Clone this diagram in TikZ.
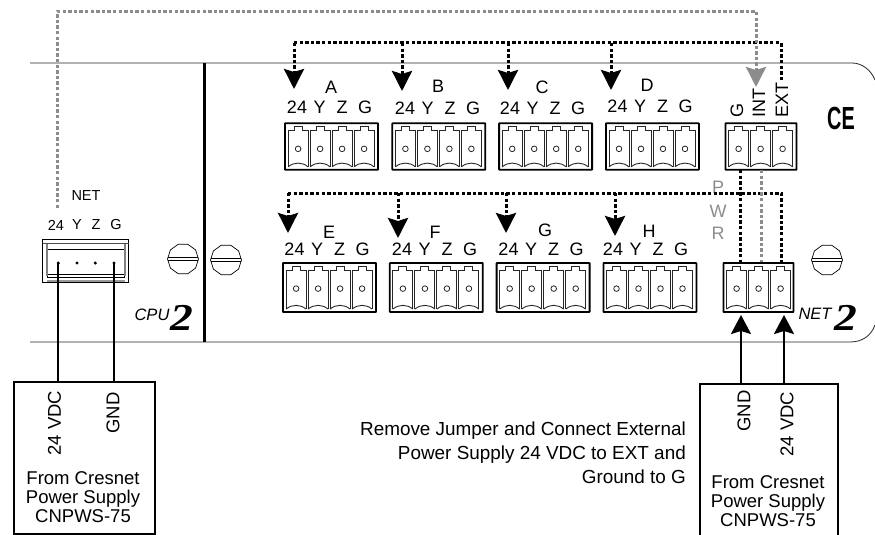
\documentclass[tikz,border=0pt]{standalone}
\usepackage{fontspec}
\setmainfont{Liberation Sans}
\newfontfamily\numeralfont{Liberation Serif}
\usetikzlibrary{calc, arrows.meta, positioning, shapes.geometric}

% one pole of a plug, #1 is the height of the plug
\tikzset{
	pole/.pic={
		\draw [line width=0.9pt, black!85] (-10,#1-2) -- (-10,8) -- (-4,8) -- (-4,4) -- (4,4) -- (4,8) -- (10,8) -- (10,#1-2);
		\draw [line width=0.9pt, black!85] (-10,#1-2) .. controls (-4,#1-7) and (4,#1-7) .. (10,#1-2);
		\draw [line width=0.8pt, black!85] (0,26.5) circle (2.8);
	}
}
\newcommand{\polesthree}[2]{
	\path ([xshift=14pt]#1.north west) pic {pole=#2};
	\path ([xshift=36pt]#1.north west) pic {pole=#2};
	\path ([xshift=58pt]#1.north west) pic {pole=#2};
}
\newcommand{\polesfour}[2]{
	\polesthree{#1}{#2}
	\path ([xshift=80pt]#1.north west) pic {pole=#2};
}
\newcommand{\pinlabels}[3]{
	\node (#124) [pinstyle] at (#2,#3) {24};
	\node (#1Y) [pinstyle] at (#2+22.5,#3) {Y};
	\node (#1Z) [pinstyle] at (#2+45,#3) {Z};
	\node (#1G) [pinstyle] at (#2+68,#3) {G};
}

\begin{document}
\begin{tikzpicture} [x=1pt, y=-1pt, node distance=12pt,
		% define styles
		termstyle/.style={
			% The shape:
			rectangle,
			% The size:
			minimum width=93pt,
			minimum height=46.5pt,
			inner sep=0pt,
			% The border:
			line width=1.8pt,
			draw=black,
			rounded corners=0.5pt
		},
		termwidestyle/.style={
			termstyle,
			minimum height=49pt
		},
		pinstyle/.style={
			inner sep=0pt,
			font=\fontsize{18}{19}\selectfont
		},
		smallpinstyle/.style={
			inner sep=0pt,
			font=\fontsize{14.5}{16}\selectfont
		},
		screwstyle/.style={
			regular polygon,
			regular polygon sides=10,
			minimum size=31pt,
			inner sep=0pt,
			draw=black,
			line width=0.7pt,
			% The slot:
			path picture={
				\draw ([yshift=1.4pt]path picture bounding box.west) -- ([yshift=1.4pt]path picture bounding box.east);
				\draw ([yshift=-1.4pt]path picture bounding box.west) -- ([yshift=-1.4pt]path picture bounding box.east);
			}
		},
		supplystyle/.style={
			rectangle,
			inner sep=0pt,
			line width=1.6pt,
			draw=black,
			anchor=north west
		},
		supplytextstyle/.style={
			inner sep=0pt,
			align=center,
			font=\fontsize{18.5}{19}\selectfont
		},
		wirearrow/.style={
			line width=2pt,
			-{Stealth[length=19pt, width=20pt, inset=3pt]}
		},
		buslinestyle/.style={
			line width=3pt,
			dash pattern=on 3.4pt off 2.2pt,
			black
		},
		busarrow/.style={
			buslinestyle,
			-{Stealth[length=20pt, width=20pt, inset=3pt]}
		},
		netlinestyle/.style={
			buslinestyle,
			black!45
		},
		netarrow/.style={
			netlinestyle,
			-{Stealth[length=20pt, width=20pt, inset=3pt]}
		}]
		% end of style definition

		\useasboundingbox (0,0) rectangle (875,535);

		% panel
		\draw [line width=0.8pt, black!85] (30,63) -- (852,63) .. controls (862,63) and (871,70) .. (875,80);
		\draw [line width=0.8pt, black!85] (30,342) -- (850,342) .. controls (862,342) and (871,336) .. (875,325);
		\draw [line width=3pt] (204,63) -- (204,342);

		% draw nodes
		\node (iTermA) [termstyle] at (331.5,146.5) {};
		\node (iTermB) [termstyle, right=12.5pt of iTermA] {};
		\node (iTermC) [termstyle, right=of iTermB] {};
		\node (iTermD) [termstyle, right=of iTermC] {};
		\node (iTermPwr) [termstyle, minimum width=71pt] at (761,146.5) {};
		\node (iTermE) [termwidestyle] at (329.5,287.5) {};
		\node (iTermF) [termwidestyle, right=of iTermE] {};
		\node (iTermG) [termwidestyle, right=of iTermF] {};
		\node (iTermH) [termwidestyle, right=of iTermG] {};
		\node (iTermNet) [termwidestyle, minimum width=70pt] at (758.5,287.5) {};

		\polesfour{iTermA}{46.5}
		\polesfour{iTermB}{46.5}
		\polesfour{iTermC}{46.5}
		\polesfour{iTermD}{46.5}
		\polesthree{iTermPwr}{46.5}
		\polesfour{iTermE}{49}
		\polesfour{iTermF}{49}
		\polesfour{iTermG}{49}
		\polesfour{iTermH}{49}
		\polesthree{iTermNet}{49}

		% labels of the plugs
		\node (iLetterA) [pinstyle] at (331,87) {A};
		\node (iLetterB) [pinstyle] at (438,86) {B};
		\node (iLetterC) [pinstyle] at (542,87) {C};
		\node (iLetterD) [pinstyle] at (647,85) {D};
		\node (iLetterE) [pinstyle] at (329,232) {E};
		\node (iLetterF) [pinstyle] at (435,232) {F};
		\node (iLetterG) [pinstyle] at (545,230) {G};
		\node (iLetterH) [pinstyle] at (649,231) {H};
		\pinlabels{iPinsA}{297}{107}
		\pinlabels{iPinsB}{405}{108.5}
		\pinlabels{iPinsC}{510}{108}
		\pinlabels{iPinsD}{617.5}{106}
		\pinlabels{iPinsE}{294.5}{249}
		\pinlabels{iPinsF}{402}{249}
		\pinlabels{iPinsG}{508.5}{249}
		\pinlabels{iPinsH}{613}{249}

		\node (iLabelG) [pinstyle, rotate=90, anchor=west] at (737,118) {G};
		\node (iLabelInt) [pinstyle, rotate=90, anchor=west] at (759,118) {INT};
		\node (iLabelExt) [pinstyle, rotate=90, anchor=west] at (782,118) {EXT};

		\node (iMarkCe) [inner sep=0pt, font=\fontsize{32}{32}\selectfont\bfseries] at (841,118) {\scalebox{0.62}[1]{CE}};

		\node (iLetterP) [pinstyle, text=black!45] at (718,187) {P};
		\node (iLetterW) [pinstyle, text=black!45] at (718,211) {W};
		\node (iLetterR) [pinstyle, text=black!45] at (718,233) {R};

		% net plug on the cpu side
		\node (iNetLabel) [smallpinstyle] at (86,196) {NET};
		\node (iNet24) [smallpinstyle] at (56,225) {24};
		\node (iNetY) [smallpinstyle] at (77,225) {Y};
		\node (iNetZ) [smallpinstyle] at (96,225) {Z};
		\node (iNetG) [smallpinstyle] at (116,225) {G};
		\node (iNetPlug) [rectangle, draw=black, line width=1.3pt, inner sep=0pt, minimum width=86pt, minimum height=43pt] at (85.5,261) {};
		\draw [line width=0.8pt] (47.5,277) |- (124,249) -- (124,277) -- cycle;
		\draw [line width=0.6pt, black!70] (43,243) -- (128.5,243);
		\draw [line width=0.8pt] (47.5,274) -- (124,274);
		\draw [line width=2pt, black!40] (47,280.5) -- (125,280.5);
		\draw [line width=1.6pt, black!50] (47,243.5) -- (47,276);
		\draw [line width=1.6pt, black!50] (125,243.5) -- (125,276);
		\node (iPin24) [circle, fill=black, inner sep=0pt, minimum size=3.4pt] at (58.3,263) {};
		\node (iPinY) [circle, fill=black, inner sep=0pt, minimum size=3.4pt] at (77,263) {};
		\node (iPinZ) [circle, fill=black, inner sep=0pt, minimum size=3.4pt] at (95.3,263) {};
		\node (iPinG) [circle, fill=black, inner sep=0pt, minimum size=3.4pt] at (114,263) {};

		% screws
		\node (iScrewA) [screwstyle] at (183,259) {};
		\node (iScrewB) [screwstyle] at (226,260) {};
		\node (iScrewC) [screwstyle] at (827,260) {};

		% module names
		\node (iCpuName) [inner sep=0pt, font=\fontsize{16.5}{17}\selectfont\itshape] at (152,315) {CPU};
		\node (iCpuTwo) [inner sep=0pt, font=\numeralfont\fontsize{38}{38}\selectfont\bfseries\itshape] at (182,318) {\scalebox{1.2}[1]{2}};
		\node (iNetName) [inner sep=0pt, font=\fontsize{16.5}{17}\selectfont\itshape] at (815,314) {NET};
		\node (iNetTwo) [inner sep=0pt, font=\numeralfont\fontsize{38}{38}\selectfont\bfseries\itshape] at (846,318) {\scalebox{1.2}[1]{2}};

		% supplies
		\node (iSupplyLeft) [supplystyle, minimum width=141pt, minimum height=152pt] at (13,381) {};
		\node (iSupplyRight) [supplystyle, minimum width=138pt, minimum height=170pt] at (699,383) {};
		\node (iLeftVdc) [supplytextstyle, rotate=90] at (54.5,423) {24 VDC};
		\node (iLeftGnd) [supplytextstyle, rotate=90] at (113,413) {GND};
		\node (iLeftText) [supplytextstyle] at (83,497) {From Cresnet\\Power Supply\\CNPWS-75};
		\node (iRightGnd) [supplytextstyle, rotate=90] at (744,411) {GND};
		\node (iRightVdc) [supplytextstyle, rotate=90] at (787,424) {24 VDC};
		\node (iRightText) [supplytextstyle] at (768,501) {From Cresnet\\Power Supply\\CNPWS-75};

		\node (iRemoveText) [inner sep=0pt, align=right, anchor=east, font=\fontsize{18.9}{24}\selectfont] at (686,453) {Remove Jumper and Connect External\\Power Supply 24 VDC to EXT and\\Ground to G};

		% bus points
		\coordinate (iBusTopA) at (294,43);
		\coordinate (iBusTopB) at (402,43);
		\coordinate (iBusTopC) at (508,43);
		\coordinate (iBusTopD) at (611,43);
		\coordinate (iBusTopExt) at (781,43);
		\coordinate (iExtEnd) at (781,80);
		\coordinate (iBusLowE) at (288,193);
		\coordinate (iBusLowF) at (398,193);
		\coordinate (iBusLowG) at (506,193);
		\coordinate (iBusLowH) at (615,193);
		\coordinate (iBusLowExt) at (781,193);
		\coordinate (iJumperG) at (740,170);
		\coordinate (iJumperInt) at (761,170);
		\coordinate (iNetStart) at (57,208);
		\coordinate (iNetCorner) at (756,12);
		\coordinate (iNetTip) at (756,87);
		\coordinate (iTipA) at (294,89);
		\coordinate (iTipB) at (402,91);
		\coordinate (iTipC) at (508,90);
		\coordinate (iTipD) at (611,90);
		\coordinate (iTipE) at (288,233);
		\coordinate (iTipF) at (398,238);
		\coordinate (iTipG) at (506,233);
		\coordinate (iTipH) at (615,236);
		\coordinate (iTipGnd) at (741,315);
		\coordinate (iTipVdc) at (784,315);

		% connect nodes
		\draw [buslinestyle] (iBusTopA) -- (iBusTopExt) -- (iExtEnd);
		\draw [busarrow] (iBusTopA) -- (iTipA);
		\draw [busarrow] (iBusTopB) -- (iTipB);
		\draw [busarrow] (iBusTopC) -- (iTipC);
		\draw [busarrow] (iBusTopD) -- (iTipD);
		\draw [netlinestyle] (iNetStart) |- (iNetCorner);
		\draw [netarrow] (iNetCorner) -- (iNetTip);

		\draw [buslinestyle] (iBusLowE) -- (iBusLowExt) -- (iBusLowExt |- iTermNet.north);
		\draw [busarrow] (iBusLowE) -- (iTipE);
		\draw [busarrow] (iBusLowF) -- (iTipF);
		\draw [busarrow] (iBusLowG) -- (iTipG);
		\draw [busarrow] (iBusLowH) -- (iTipH);
		\draw [buslinestyle] (iJumperG) -- (iJumperG |- iTermNet.north);
		\draw [netlinestyle] (iJumperInt) -- (iJumperInt |- iTermNet.north);

		\draw [line width=2pt] (iPin24.center) -- (iPin24.center |- iSupplyLeft.north);
		\draw [line width=2pt] (iPinG.center) -- (iPinG.center |- iSupplyLeft.north);
		\draw [wirearrow] (iTipGnd |- iSupplyRight.north) -- (iTipGnd);
		\draw [wirearrow] (iTipVdc |- iSupplyRight.north) -- (iTipVdc);
	\end{tikzpicture}
\end{document}
